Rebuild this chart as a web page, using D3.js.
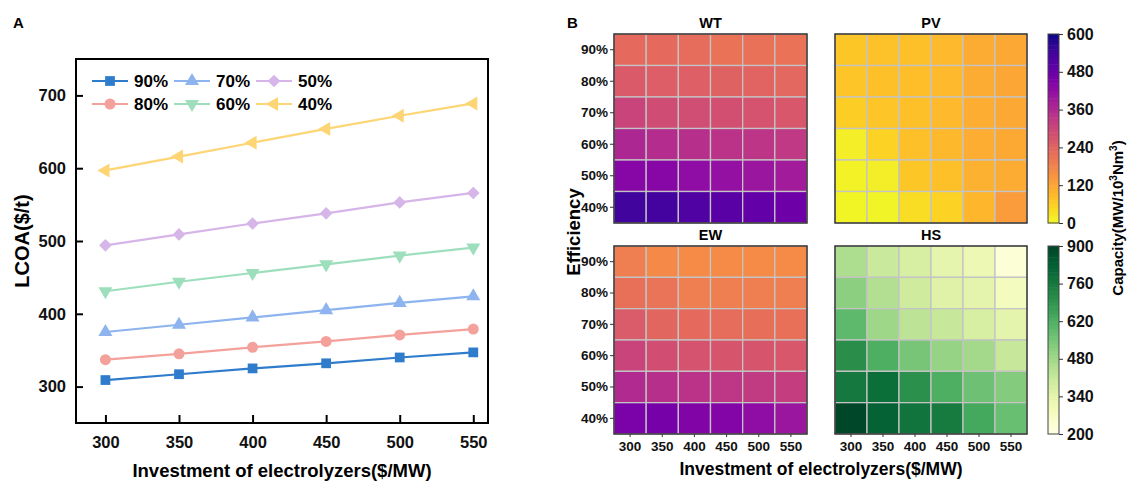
<!DOCTYPE html>
<html>
<head>
<meta charset="utf-8">
<script src="https://cdn.jsdelivr.net/npm/d3@7"></script>
<style>
  body { margin: 0; background: #fff; }
  svg { display: block; font-family: "Liberation Sans", Arial, sans-serif; font-weight: bold; }
</style>
</head>
<body>
<div id="chart"></div>
<script>
// x values shared by both panels
var invest = [300, 350, 400, 450, 500, 550];
var effLabels = ["90%", "80%", "70%", "60%", "50%", "40%"];

// panel A - LCOA by efficiency
var seriesNames = ["90%", "80%", "70%", "60%", "50%", "40%"];
var lcoa90 = [309, 317, 325, 332, 340, 347];
var lcoa80 = [337, 345, 354, 362, 371, 379];
var lcoa70 = [375, 385, 395, 405, 415, 424];
var lcoa60 = [431, 444, 456, 468, 480, 491];
var lcoa50 = [494, 509, 524, 538, 553, 566];
var lcoa40 = [597, 616, 635, 654, 672, 689];
var seriesColors = ["#2e7ccb", "#f4a09b", "#8db4ef", "#9ddfbd", "#d6b5e8", "#fdd574"];
var yTicksA = [300, 400, 500, 600, 700];

// panel B - capacity heatmaps, rows 90% -> 40%, cols 300 -> 550
var wtCap = [
  [228, 228, 225, 213, 215, 213],
  [262, 252, 250, 246, 240, 234],
  [306, 290, 288, 282, 276, 266],
  [366, 354, 348, 342, 336, 330],
  [438, 434, 420, 414, 402, 390],
  [540, 536, 516, 504, 492, 474]
];
var pvCap = [
  [72, 78, 82, 90, 112, 118],
  [74, 80, 84, 90, 112, 120],
  [62, 74, 82, 90, 110, 118],
  [15, 55, 82, 92, 108, 116],
  [10, 15, 72, 82, 105, 112],
  [5, 8, 40, 55, 95, 138]
];
var ewCap = [
  [192, 170, 168, 168, 168, 168],
  [216, 210, 192, 190, 190, 190],
  [258, 235, 228, 225, 220, 216],
  [306, 285, 275, 270, 270, 266],
  [360, 348, 340, 335, 325, 318],
  [456, 460, 444, 440, 420, 402]
];
var hsCap = [
  [460, 405, 375, 335, 310, 230],
  [515, 450, 395, 355, 340, 285],
  [590, 485, 430, 410, 375, 340],
  [705, 620, 550, 500, 475, 410],
  [760, 790, 700, 620, 565, 530],
  [895, 825, 775, 755, 640, 575]
];
var cbTicks1 = [0, 120, 240, 360, 480, 600];
var cbTicks2 = [200, 340, 480, 620, 760, 900];

var svg = d3.select("#chart").append("svg")
  .attr("width", 1129).attr("height", 481);

// ---------------- panel A ----------------
var ax = {left: 76, right: 488, top: 59, bottom: 423};
var x = d3.scaleLinear().domain([280, 560]).range([ax.left, ax.right]);
var y = d3.scaleLinear().domain([250, 750]).range([ax.bottom, ax.top]);

svg.append("text").attr("x", 13).attr("y", 28).attr("font-size", 15).text("A");

var gA = svg.append("g");

gA.append("g")
  .attr("transform", "translate(0," + ax.bottom + ")")
  .call(d3.axisBottom(x).tickValues(invest).tickSizeInner(-8).tickSizeOuter(0).tickPadding(13))
  .call(function(g){
    g.select(".domain").remove();
    g.selectAll("line").attr("stroke", "#000").attr("stroke-width", 2);
    g.selectAll("text").attr("font-size", 16.5).attr("fill", "#111").attr("font-family", null);
  });

gA.append("g")
  .attr("transform", "translate(" + ax.left + ",0)")
  .call(d3.axisLeft(y).tickValues(yTicksA).tickSizeInner(-7).tickSizeOuter(0).tickPadding(10))
  .call(function(g){
    g.select(".domain").remove();
    g.selectAll("line").attr("stroke", "#000").attr("stroke-width", 2);
    g.selectAll("text").attr("font-size", 16.5).attr("fill", "#111").attr("font-family", null);
  });

gA.append("rect")
  .attr("x", ax.left).attr("y", ax.top)
  .attr("width", ax.right - ax.left).attr("height", ax.bottom - ax.top)
  .attr("fill", "none").attr("stroke", "#000").attr("stroke-width", 2);

gA.append("text")
  .attr("transform", "translate(29," + ((ax.top + ax.bottom) / 2) + ") rotate(-90)")
  .attr("text-anchor", "middle").attr("font-size", 20).text("LCOA($/t)");

gA.append("text")
  .attr("x", (ax.left + ax.right) / 2).attr("y", 477)
  .attr("text-anchor", "middle").attr("font-size", 18.5).text("Investment of electrolyzers($/MW)");

var allSeries = [lcoa90, lcoa80, lcoa70, lcoa60, lcoa50, lcoa40];

function markerPath(i) {
  if (i == 0) return {d: d3.symbol(d3.symbolSquare, 95)(), rot: 0};
  if (i == 1) return {d: d3.symbol(d3.symbolCircle, 95)(), rot: 0};
  if (i == 2) return {d: d3.symbol(d3.symbolTriangle, 85)(), rot: 0};
  if (i == 3) return {d: d3.symbol(d3.symbolTriangle, 85)(), rot: 180};
  if (i == 4) return {d: d3.symbol(d3.symbolSquare, 80)(), rot: 45};
  return {d: d3.symbol(d3.symbolTriangle, 85)(), rot: -90};
}

var line = d3.line()
  .x(function(d, i){ return x(invest[i]); })
  .y(function(d){ return y(d); });

allSeries.forEach(function(vals, i) {
  var m = markerPath(i);
  gA.append("path").datum(vals)
    .attr("d", line).attr("fill", "none")
    .attr("stroke", seriesColors[i]).attr("stroke-width", 2.2);
  gA.selectAll(".m" + i).data(vals).enter().append("path")
    .attr("d", m.d)
    .attr("transform", function(d, j){ return "translate(" + x(invest[j]) + "," + y(d) + ") rotate(" + m.rot + ")"; })
    .attr("fill", seriesColors[i]);
});

// legend, 3 columns x 2 rows
var legendOrder = [0, 2, 4, 1, 3, 5];
legendOrder.forEach(function(si, k) {
  var col = k % 3, row = Math.floor(k / 3);
  var lx = 92 + col * 82, ly = 81 + row * 23;
  var m = markerPath(si);
  gA.append("line").attr("x1", lx).attr("x2", lx + 36).attr("y1", ly).attr("y2", ly)
    .attr("stroke", seriesColors[si]).attr("stroke-width", 2.2);
  gA.append("path").attr("d", m.d)
    .attr("transform", "translate(" + (lx + 18) + "," + ly + ") rotate(" + m.rot + ")")
    .attr("fill", seriesColors[si]);
  gA.append("text").attr("x", lx + 42).attr("y", ly + 6)
    .attr("font-size", 17).text(seriesNames[si]);
});

// ---------------- panel B ----------------
svg.append("text").attr("x", 567).attr("y", 28).attr("font-size", 15).text("B");

var plasmaCol = d3.scaleSequential(function(t){ return d3.interpolatePlasma(1 - t); }).domain([0, 600]);
var greenCol = d3.scaleSequential(d3.interpolateYlGn).domain([200, 900]);

var panels = [
  {name: "WT", data: wtCap, x0: 614, x1: 807, y0: 34, y1: 223, color: plasmaCol, yAxis: true, xAxis: false},
  {name: "PV", data: pvCap, x0: 835, x1: 1027, y0: 34, y1: 223, color: plasmaCol, yAxis: false, xAxis: false},
  {name: "EW", data: ewCap, x0: 614, x1: 807, y0: 246, y1: 434, color: plasmaCol, yAxis: true, xAxis: true},
  {name: "HS", data: hsCap, x0: 835, x1: 1027, y0: 246, y1: 434, color: greenCol, yAxis: false, xAxis: true}
];

panels.forEach(function(p) {
  var g = svg.append("g");
  var xb = d3.scaleBand().domain(invest).range([p.x0, p.x1]);
  var yb = d3.scaleBand().domain(effLabels).range([p.y0, p.y1]);

  var cells = [];
  p.data.forEach(function(row, r) {
    row.forEach(function(v, c) { cells.push({r: effLabels[r], c: invest[c], v: v}); });
  });

  g.selectAll("rect.cell").data(cells).enter().append("rect")
    .attr("class", "cell")
    .attr("x", function(d){ return xb(d.c); })
    .attr("y", function(d){ return yb(d.r); })
    .attr("width", xb.bandwidth()).attr("height", yb.bandwidth())
    .attr("fill", function(d){ return p.color(d.v); })
    .attr("stroke", "#c4c4c4").attr("stroke-width", 1.3);

  g.append("rect")
    .attr("x", p.x0).attr("y", p.y0)
    .attr("width", p.x1 - p.x0).attr("height", p.y1 - p.y0)
    .attr("fill", "none").attr("stroke", "#222").attr("stroke-width", 1.3);

  g.append("text").attr("x", (p.x0 + p.x1) / 2).attr("y", p.y0 - 6)
    .attr("text-anchor", "middle").attr("font-size", 14.5).text(p.name);

  if (p.yAxis) {
    g.append("g").attr("transform", "translate(" + p.x0 + ",0)")
      .call(d3.axisLeft(yb).tickSizeInner(4).tickSizeOuter(0).tickPadding(2))
      .call(function(a){
        a.select(".domain").remove();
        a.selectAll("line").attr("stroke", "#333");
        a.selectAll("text").attr("font-size", 13.5).attr("fill", "#111").attr("font-family", null);
      });
  }
  if (p.xAxis) {
    g.append("g").attr("transform", "translate(0," + p.y1 + ")")
      .call(d3.axisBottom(xb).tickSizeInner(3).tickSizeOuter(0).tickPadding(4))
      .call(function(a){
        a.select(".domain").remove();
        a.selectAll("line").attr("stroke", "#333");
        a.selectAll("text").attr("font-size", 13.5).attr("fill", "#111").attr("font-family", null);
      });
  }
});

// colorbars
function colorbar(color, domain, ticks, y0, y1) {
  var g = svg.append("g");
  var cy = d3.scaleLinear().domain(domain).range([y1, y0]);
  var n = 50, step = (domain[1] - domain[0]) / n;
  var bands = d3.range(n).map(function(i){ return domain[0] + i * step; });
  g.selectAll("rect").data(bands).enter().append("rect")
    .attr("x", 1048).attr("width", 11)
    .attr("y", function(d){ return cy(d + step); })
    .attr("height", function(d){ return cy(d) - cy(d + step) + 0.5; })
    .attr("fill", function(d){ return color(d + step / 2); });
  g.append("rect").attr("x", 1048).attr("y", y0).attr("width", 11).attr("height", y1 - y0)
    .attr("fill", "none").attr("stroke", "#444").attr("stroke-width", 1);
  g.append("g").attr("transform", "translate(1059,0)")
    .call(d3.axisRight(cy).tickValues(ticks).tickSizeInner(4).tickSizeOuter(0).tickPadding(4))
    .call(function(a){
      a.select(".domain").remove();
      a.selectAll("line").attr("stroke", "#333");
      a.selectAll("text").attr("font-size", 16).attr("fill", "#111").attr("font-family", null);
    });
}
colorbar(plasmaCol, [0, 600], cbTicks1, 34, 223);
colorbar(greenCol, [200, 900], cbTicks2, 246, 434);

// shared labels
svg.append("text")
  .attr("transform", "translate(580,232) rotate(-90)")
  .attr("text-anchor", "middle").attr("font-size", 18.5).text("Efficiency");

svg.append("text")
  .attr("x", 821).attr("y", 475)
  .attr("text-anchor", "middle").attr("font-size", 17.5).text("Investment of electrolyzers($/MW)");

var capLabel = svg.append("text")
  .attr("transform", "translate(1123,218) rotate(-90)")
  .attr("text-anchor", "middle").attr("font-size", 15);
capLabel.append("tspan").text("Capacity(MW/10");
capLabel.append("tspan").attr("font-size", 10).attr("dy", -6).text("3");
capLabel.append("tspan").attr("dy", 6).text("Nm");
capLabel.append("tspan").attr("font-size", 10).attr("dy", -6).text("3");
capLabel.append("tspan").attr("dy", 6).text(")");
</script>
</body>
</html>
